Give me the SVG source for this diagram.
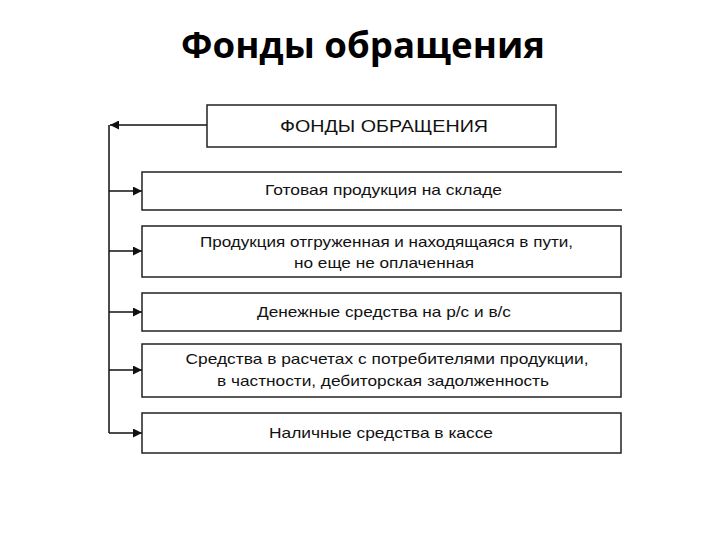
<svg xmlns="http://www.w3.org/2000/svg" width="720" height="540" viewBox="0 0 720 540">
<style>
.title{font-family:"Open Sans","Liberation Sans",sans-serif;font-weight:700;font-size:35px;fill:#000;text-anchor:middle}
.box{fill:#fff;stroke:#222;stroke-width:1.5}
.lbl{font-family:"Liberation Sans",Arial,sans-serif;font-size:15px;fill:#111;text-anchor:middle}
.cap{font-family:"Liberation Sans",Arial,sans-serif;font-size:16px;fill:#111;text-anchor:middle}
.conn{stroke:#111;stroke-width:1.5;fill:none}
</style>
<defs>
<marker id="ah" viewBox="0 0 10 10" refX="10" refY="5" markerWidth="10" markerHeight="9" markerUnits="userSpaceOnUse" orient="auto">
<path d="M0,0 L10,5 L0,10 z" fill="#111"/>
</marker>
</defs>
<rect width="720" height="540" fill="#fff"/>
<text class="title" x="363" y="58" textLength="364" lengthAdjust="spacingAndGlyphs">Фонды обращения</text>

<g id="connectors">
<path class="conn" d="M207,125 H110" marker-end="url(#ah)"/>
<path class="conn" d="M109,125 V433"/>
<path class="conn" d="M109,191 H142" marker-end="url(#ah)"/>
<path class="conn" d="M109,251 H142" marker-end="url(#ah)"/>
<path class="conn" d="M109,312 H142" marker-end="url(#ah)"/>
<path class="conn" d="M109,370 H142" marker-end="url(#ah)"/>
<path class="conn" d="M109,433 H142" marker-end="url(#ah)"/>
</g>

<g id="root">
<rect class="box" x="207" y="105" width="349" height="42"/>
<text class="cap" x="384" y="132" textLength="208" lengthAdjust="spacingAndGlyphs">ФОНДЫ ОБРАЩЕНИЯ</text>
</g>
<g id="n1">
<path class="box" d="M622,172 H142 V210 H622"/>
<text class="lbl" x="383.5" y="195" textLength="237" lengthAdjust="spacingAndGlyphs">Готовая продукция на складе</text>
</g>
<g id="n2">
<rect class="box" x="142" y="226" width="479" height="51"/>
<text class="lbl" x="386.5" y="247" textLength="373" lengthAdjust="spacingAndGlyphs">Продукция отгруженная и находящаяся в пути,</text>
<text class="lbl" x="384" y="268" textLength="180" lengthAdjust="spacingAndGlyphs">но еще не оплаченная</text>
</g>
<g id="n3">
<rect class="box" x="142" y="293" width="479" height="38"/>
<text class="lbl" x="384" y="317" textLength="254" lengthAdjust="spacingAndGlyphs">Денежные средства на р/с и в/с</text>
</g>
<g id="n4">
<rect class="box" x="142" y="344" width="479" height="53"/>
<text class="lbl" x="387" y="364" textLength="403" lengthAdjust="spacingAndGlyphs">Средства в расчетах с потребителями продукции,</text>
<text class="lbl" x="383" y="386" textLength="332" lengthAdjust="spacingAndGlyphs">в частности, дебиторская задолженность</text>
</g>
<g id="n5">
<rect class="box" x="142" y="413" width="479" height="40"/>
<text class="lbl" x="381" y="438" textLength="224" lengthAdjust="spacingAndGlyphs">Наличные средства в кассе</text>
</g>
</svg>
